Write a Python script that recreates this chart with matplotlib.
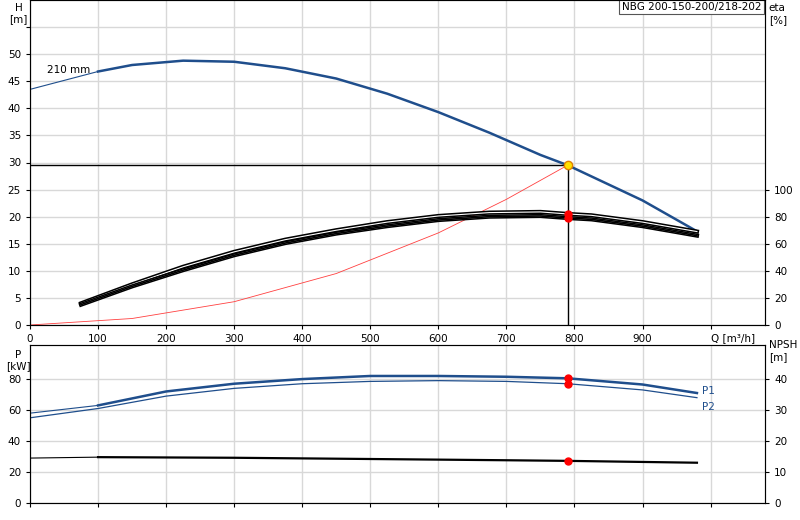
import matplotlib
matplotlib.use("Agg")
import matplotlib.pyplot as plt
import numpy as np

q_h = [0, 100, 150, 225, 300, 375, 450, 525, 600, 675, 750, 790, 900, 980]
h = [43.5, 46.8, 48.0, 48.8, 48.6, 47.4, 45.5, 42.7, 39.3, 35.5, 31.4, 29.5, 23.0, 17.3]
q_eta = [75, 150, 225, 300, 375, 450, 525, 600, 675, 750, 790, 825, 900, 980]
eta_up = [16, 30, 43, 54, 63, 70, 76, 80.5, 83, 83.5, 82, 81, 76, 69]
eta_lo = [15, 28.5, 40.5, 51.5, 60.5, 67.5, 73, 77.5, 80, 80.5, 79, 78, 73, 66]
q_sys = [0, 150, 300, 450, 600, 700, 790]
h_sys = [0, 1.2, 4.3, 9.5, 17.0, 23.2, 29.5]
q_p = [0, 100, 200, 300, 400, 500, 600, 700, 790, 900, 980]
p1 = [58, 63, 72, 77, 80, 82, 82, 81.5, 80.5, 76.5, 71]
p2 = [55, 61, 69, 74, 77, 78.5, 79, 78.5, 77, 73, 68]
q_n = [0, 100, 300, 500, 700, 790, 980]
npsh = [14.5, 14.8, 14.6, 14.2, 13.8, 13.6, 13.0]
q_op = 790
h_op = 29.5

blue = "#1f4e8c"
fig = plt.figure(figsize=(8, 5.2), dpi=100)
ax = fig.add_axes([30/800, 1-325/520, 735/800, 325/520])
axb = fig.add_axes([30/800, 1-503/520, 735/800, 158/520])
fs = 7.5
for a in (ax, axb):
    a.set_xlim(0, 1080)
    a.set_xticks(range(0, 1001, 100))
    a.grid(True, color="#d8d8d8", lw=1)
    a.tick_params(labelsize=fs, length=3)
    for s in a.spines.values():
        s.set_color("#555555")

ax.set_ylim(0, 60)
ax.set_yticks(range(0, 56, 5))
ax.set_yticklabels([str(v) if v <= 50 else "" for v in range(0, 56, 5)])
ax.set_xticklabels([str(v) if v < 1000 else "" for v in range(0, 1001, 100)])
ax.text(1000, -1.5, "Q [m³/h]", fontsize=fs, va="top", ha="left")
ax.text(-17, 59.5, "H\n[m]", fontsize=fs, ha="center", va="top")

ax.plot(q_h[:2], h[:2], color=blue, lw=0.8)
ax.plot(q_h[1:], h[1:], color=blue, lw=1.8)
ax.text(25, 46.5, "210 mm", fontsize=fs)
ax.plot(q_sys, h_sys, color="#ff4040", lw=0.6)
ax.plot([0, q_op], [h_op, h_op], color="black", lw=1)
ax.plot([q_op, q_op], [0, h_op], color="black", lw=1)

ax2 = ax.twinx()
ax2.set_ylim(0, 240)
ax2.set_yticks(range(0, 101, 20))
ax2.tick_params(labelsize=fs, length=3)
ax2.text(1.005, 0.99, "eta\n[%]", transform=ax.transAxes, fontsize=fs, va="top")
for e in (eta_up, eta_lo):
    ax2.plot(q_eta, e, color="black", lw=3.0)
    ax2.plot(q_eta, e, color="white", lw=0.8)
ax2.plot(q_eta, eta_lo, color="black", lw=1.2)
ax2.plot([q_op]*2, [82, 79], "o", color="red", ms=5)
ax.plot([q_op], [h_op], "o", color="#ffe000", mec="#e08000", ms=6, zorder=5)
ax.text(0.995, 0.995, "NBG 200-150-200/218-202", transform=ax.transAxes, fontsize=fs,
        ha="right", va="top", bbox=dict(fc="white", ec="#555555", lw=0.8, pad=2))

axb.set_ylim(0, 102)
axb.set_yticks(range(0, 81, 20))
axb.set_xticklabels([])
axb.text(-17, 99, "P\n[kW]", fontsize=fs, ha="center", va="top")
axb.plot(q_p[:2], p1[:2], color=blue, lw=0.8)
axb.plot(q_p[1:], p1[1:], color=blue, lw=1.8)
axb.plot(q_p, p2, color=blue, lw=0.9)
axb.text(988, 72, "P1", fontsize=fs, color=blue, va="center")
axb.text(988, 62, "P2", fontsize=fs, color=blue, va="center")
axb.plot([q_op]*2, [80.5, 77], "o", color="red", ms=5)
axb3 = axb.twinx()
axb3.set_ylim(0, 51)
axb3.set_yticks(range(0, 41, 10))
axb3.tick_params(labelsize=fs, length=3)
axb3.text(1.005, 1.03, "NPSH\n[m]", transform=axb.transAxes, fontsize=fs, va="top")
axb3.plot(q_n[:2], npsh[:2], color="black", lw=0.8)
axb3.plot(q_n[1:], npsh[1:], color="black", lw=1.6)
axb3.plot([q_op], [13.6], "o", color="red", ms=5)

fig.savefig("out.png", dpi=100)
